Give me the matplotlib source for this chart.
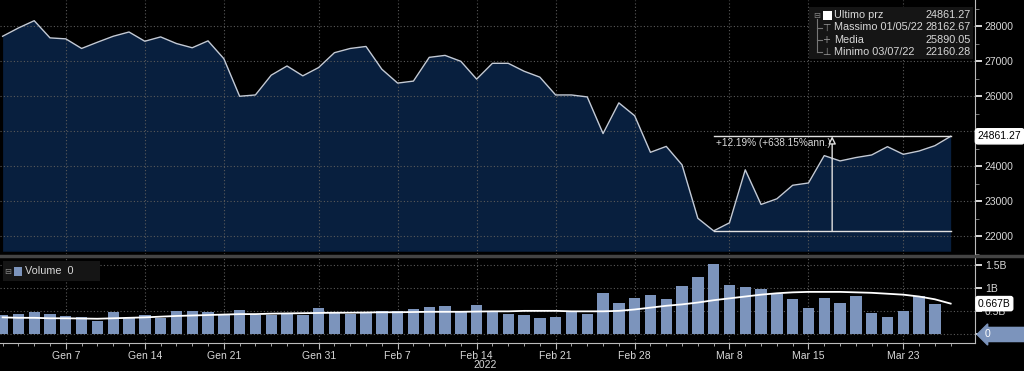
import numpy as np
import matplotlib.pyplot as plt
from matplotlib.patches import Rectangle
from matplotlib.lines import Line2D

plt.rcParams['font.family'] = ['Liberation Sans', 'DejaVu Sans']

# trading days 3 Jan 2022 .. 28 Mar 2022 (index = trading day)
tick_pos = [4, 9, 14, 20, 25, 30, 35, 40, 46, 51, 57]
tick_labels = ['Gen 7', 'Gen 14', 'Gen 21', 'Gen 31', 'Feb 7', 'Feb 14',
               'Feb 21', 'Feb 28', 'Mar 8', 'Mar 15', 'Mar 23']

price_ticks = [22000, 23000, 24000, 25000, 26000, 27000, 28000]
# 25000 sits under the last-price tag
price_tick_labels = ['22000', '23000', '24000', '', '26000', '27000', '28000']

price = [27718, 27955, 28162.67, 27672, 27644, 27370, 27548, 27718, 27840, 27576,
         27700, 27511, 27390, 27587, 27079, 26005, 26042, 26607, 26870, 26588,
         26825, 27249, 27370, 27427, 26777, 26381, 26438, 27116, 27172, 27003,
         26494, 26946, 26946, 26720, 26551, 26042, 26042, 25986, 24940, 25816,
         25449, 24404, 24573, 24045, 22520, 22160.28, 22390, 23904, 22915, 23076,
         23463, 23528, 24310, 24158, 24254, 24328, 24565, 24347, 24441, 24593,
         24861.27]

volume = [0.42, 0.44, 0.48, 0.44, 0.41, 0.37, 0.30, 0.48, 0.35, 0.42,
          0.35, 0.51, 0.51, 0.49, 0.42, 0.53, 0.43, 0.42, 0.47, 0.42,
          0.57, 0.49, 0.44, 0.49, 0.51, 0.51, 0.55, 0.60, 0.62, 0.51,
          0.64, 0.51, 0.44, 0.42, 0.36, 0.38, 0.51, 0.44, 0.90, 0.69,
          0.79, 0.85, 0.77, 1.05, 1.25, 1.52, 1.07, 1.03, 0.98, 0.87,
          0.76, 0.58, 0.79, 0.67, 0.83, 0.46, 0.38, 0.51, 0.83, 0.66,
          0.0]

vol_avg = [0.37, 0.36, 0.36, 0.35, 0.35, 0.345, 0.34, 0.35, 0.36, 0.37,
           0.385, 0.40, 0.41, 0.42, 0.43, 0.44, 0.44, 0.45, 0.455, 0.46,
           0.465, 0.47, 0.47, 0.475, 0.48, 0.48, 0.485, 0.49, 0.49, 0.49,
           0.495, 0.50, 0.50, 0.51, 0.51, 0.51, 0.50, 0.50, 0.50, 0.51,
           0.54, 0.58, 0.62, 0.65, 0.69, 0.74, 0.78, 0.82, 0.86, 0.89,
           0.91, 0.92, 0.92, 0.92, 0.91, 0.90, 0.88, 0.86, 0.82, 0.76,
           0.667]

legend_rows = [('Ultimo prz', '24861.27'), ('Massimo 01/05/22', '28162.67'),
               ('Media', '25890.05'), ('Minimo 03/07/22', '22160.28')]

bg = 'black'
fill_col = '#081f3e'
line_col = '#c3cad6'
bar_col = '#7c94bc'
txt_col = '#d8d8d8'
grid_col = '#5a5a5a'

W, H = 1024, 371


def fx(px):
    return px / W


def fy(py):
    return 1 - py / H


x = np.arange(len(price))
price = np.array(price)
volume = np.array(volume)

fig = plt.figure(figsize=(W / 100, H / 100), dpi=100, facecolor=bg)
ax1 = fig.add_axes([0, fy(254), fx(975), 254 / H], facecolor=bg)
ax2 = fig.add_axes([0, fy(343), fx(975), (343 - 258) / H], facecolor=bg, sharex=ax1)

# price panel
ymin, ymax = 21579, 28754
ax1.fill_between(x, price, ymin, color=fill_col, lw=0, zorder=1)
ax1.plot(x, price, color=line_col, lw=1.0, zorder=2)
ax1.set_ylim(ymin, ymax)
ax1.set_xlim(-0.165, 61.54)
ax1.yaxis.tick_right()
ax1.set_yticks(price_ticks)
ax1.set_yticklabels(price_tick_labels)
ax1.set_yticks(np.arange(21500, 28800, 500), minor=True)
ax1.tick_params(axis='y', which='major', colors='white', labelcolor=txt_col,
                labelsize=7.5, length=5, width=1.2, pad=2)
ax1.tick_params(axis='y', which='minor', colors='#888888', length=3)
ax1.tick_params(axis='x', which='both', bottom=False, labelbottom=False)
ax1.set_xticks(tick_pos)
ax1.grid(True, which='major', color=grid_col, ls=(0, (1, 2)), lw=0.8, zorder=3)
for s in ['top', 'left', 'bottom']:
    ax1.spines[s].set_visible(False)
ax1.spines['right'].set_color('#bbbbbb')

# range annotation (min -> last)
i_min = int(np.argmin(price))
last = price[-1]
low = price[i_min]
ax1.plot([x[i_min], x[-1]], [last, last], color='#e0e0e0', lw=1, zorder=4)
ax1.plot([x[i_min], x[-1]], [low, low], color='#e0e0e0', lw=1, zorder=4)
ax1.annotate('', xy=(52.5, last), xytext=(52.5, low),
             arrowprops=dict(arrowstyle='-|>', color='#e0e0e0', fc='black',
                             lw=1, mutation_scale=11, shrinkA=0, shrinkB=0),
             zorder=4)
ax1.text(x[i_min] + 0.15, last - 60, '+12.19% (+638.15%ann.)', color=txt_col,
         fontsize=7.2, va='top', ha='left', zorder=5)
ax1.text(1.003, last, '24861.27', transform=ax1.get_yaxis_transform(),
         color='black', fontsize=7.5, va='center', ha='left', zorder=10,
         clip_on=False,
         bbox=dict(boxstyle='round,pad=0.25', fc='white', ec='white'))

# volume panel
ax2.bar(x, volume, width=0.72, color=bar_col, zorder=2)
ax2.plot(x, vol_avg, color='white', lw=1.3, zorder=3)
ax2.set_ylim(-0.184, 1.652)
ax2.yaxis.tick_right()
ax2.set_yticks([0, 0.5, 1.0, 1.5])
ax2.set_yticklabels(['', '0.5B', '1B', '1.5B'])
ax2.tick_params(axis='y', which='major', colors='white', labelcolor=txt_col,
                labelsize=7.5, length=5, width=1.2, pad=2)
ax2.set_xticks(tick_pos)
ax2.set_xticklabels(tick_labels)
ax2.set_xticks(x, minor=True)
ax2.tick_params(axis='x', which='major', colors='#bbbbbb', labelcolor=txt_col,
                labelsize=7.5, length=4, pad=1.5)
ax2.tick_params(axis='x', which='minor', colors='#bbbbbb', length=2.5)
ax2.grid(True, which='major', color=grid_col, ls=(0, (1, 2)), lw=0.8, zorder=1)
for s in ['top', 'left']:
    ax2.spines[s].set_visible(False)
ax2.spines['right'].set_color('#bbbbbb')
ax2.spines['bottom'].set_color('#bbbbbb')
ax2.text(1.003, vol_avg[-1], '0.667B', transform=ax2.get_yaxis_transform(),
         color='black', fontsize=7.5, va='center', ha='left', zorder=10,
         clip_on=False,
         bbox=dict(boxstyle='round,pad=0.2', fc='white', ec='white'))
ax2.text(1.01, 0, '0            ', transform=ax2.get_yaxis_transform(),
         color='white', fontsize=7.5, va='center', ha='left', zorder=10,
         clip_on=False,
         bbox=dict(boxstyle='larrow,pad=0.2', fc=bar_col, ec=bar_col))

# panel separator
fig.add_artist(Line2D([0, 1], [fy(256), fy(256)], color='#444444', lw=2.5))

# top legend
fig.add_artist(Rectangle((fx(809), fy(59)), fx(973) - fx(809), fy(7) - fy(59),
                         fc='#151515', ec='none'))
row_y = [15, 27.5, 40, 52.3]
fig.add_artist(Line2D([fx(817), fx(817)], [fy(19), fy(52)], color='#777777', lw=0.8))
fig.text(fx(817), fy(row_y[0]), '⊟', color='#888888', fontsize=6, ha='center',
         va='center', family='DejaVu Sans')
fig.add_artist(Rectangle((fx(823), fy(20)), fx(9), 9 / H, fc='white', ec='none'))
marks = ['⊤', '+', '⊥']
for k, (name, val) in enumerate(legend_rows):
    fig.text(fx(834), fy(row_y[k]), name, color=txt_col, fontsize=7.8, va='center')
    fig.text(fx(926), fy(row_y[k]), val, color=txt_col, fontsize=7.8, va='center')
    if k > 0:
        fig.add_artist(Line2D([fx(817), fx(822)], [fy(row_y[k]), fy(row_y[k])],
                              color='#777777', lw=0.8))
        fig.text(fx(826), fy(row_y[k]), marks[k - 1], color='#999999',
                 fontsize=7, ha='center', va='center', family='DejaVu Sans')

# volume legend
fig.add_artist(Rectangle((fx(3), fy(281)), fx(97), 20 / H, fc='#151515', ec='none'))
fig.text(fx(8), fy(271.5), '⊟', color='#888888', fontsize=6, ha='center',
         va='center', family='DejaVu Sans')
fig.add_artist(Rectangle((fx(14), fy(276)), fx(8), 9 / H, fc=bar_col, ec='none'))
fig.text(fx(25), fy(271.5), 'Volume  0', color=txt_col, fontsize=7.8, va='center')

fig.text(fx(485), fy(365), '2022', color=txt_col, fontsize=7.5, ha='center', va='center')

fig.savefig('out.png', dpi=100, facecolor=bg)
